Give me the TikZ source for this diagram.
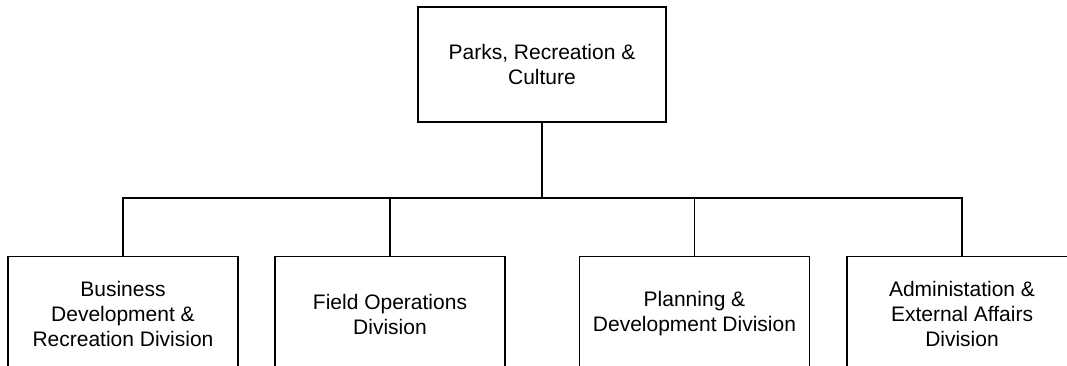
\documentclass[tikz,border=0pt]{standalone}
\usepackage{fontspec}
\setmainfont{Liberation Sans}
\begin{document}
\begin{tikzpicture}[
    x=0.75pt, y=-0.75pt,
    unitbox/.style={draw=black, line width=0.9pt, fill=white, align=center,
                    font=\fontsize{15.75pt}{18.75pt}\selectfont, inner sep=0pt},
    headbox/.style={unitbox, minimum width=186pt, minimum height=86.25pt},
    divbox/.style={unitbox, minimum width=172.5pt, minimum height=86.25pt},
    link/.style={draw=black, line width=0.9pt}
]
\useasboundingbox (0,0) rectangle (1067,366);
\clip (0,0) rectangle (1067,366);

% department head
\node[headbox] (head) at (542,64.5) {Parks, Recreation \&\\Culture};

% divisions
\node[divbox] (bus)   at (123,314)   {Business\\Development \&\\Recreation Division};
\node[divbox] (field) at (390,314)   {Field Operations\\Division};
\node[divbox] (plan)  at (694.5,314) {Planning \&\\Development Division};
\node[divbox] (admin) at (962,314)   {Administation \&\\External Affairs\\Division};

% connector bar
\coordinate (bar) at (542,198);
\path[link] (head.south) -- (head.south |- bar);
\path[link] (bus.north) -- (bus.north |- bar) -- (admin.north |- bar) -- (admin.north);
\path[link] (field.north) -- (field.north |- bar);
\path[link] (plan.north) -- (plan.north |- bar);
\end{tikzpicture}
\end{document}
